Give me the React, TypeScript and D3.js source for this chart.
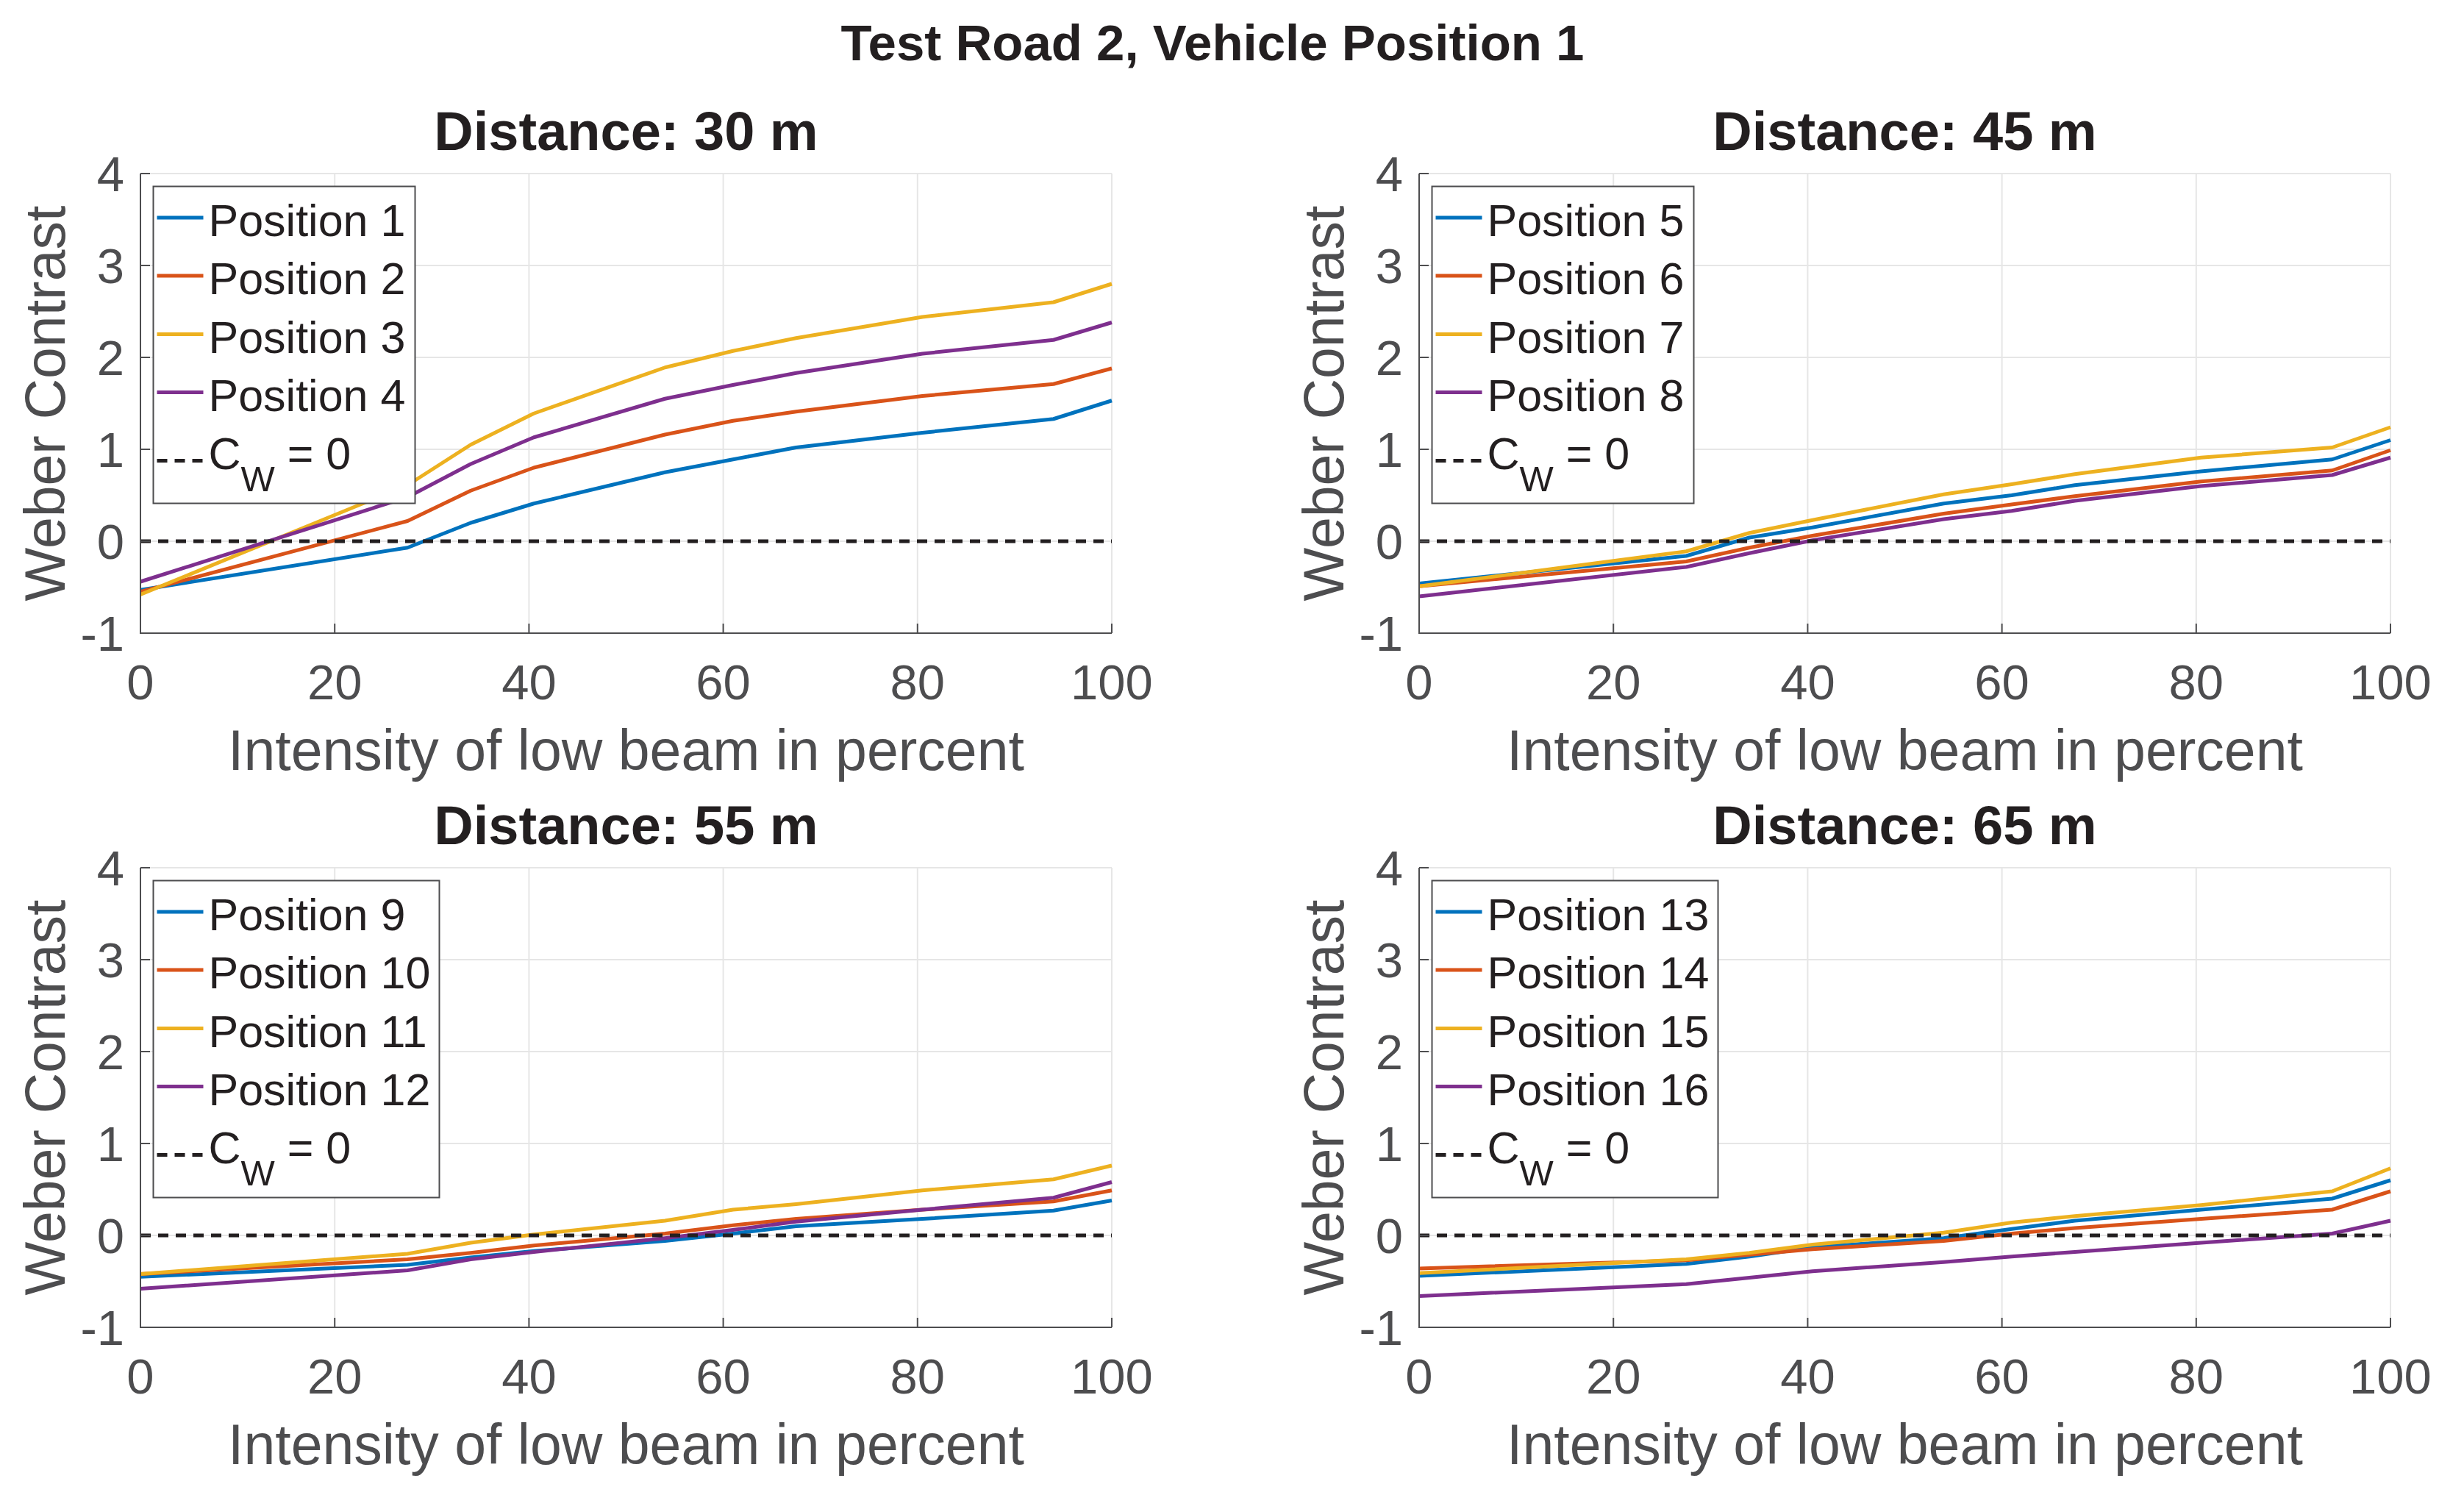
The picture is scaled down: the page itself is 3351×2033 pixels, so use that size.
import * as d3 from 'd3'

// x positions (intensity of low beam, %)
const intensity = [0, 27.5, 34, 40.5, 54, 61, 67.5, 80.5, 94, 100]

// Distance 30 m
const pos1 = [-0.53, -0.07, 0.2, 0.41, 0.75, 0.89, 1.02, 1.18, 1.33, 1.53]
const pos2 = [-0.55, 0.22, 0.55, 0.8, 1.16, 1.31, 1.41, 1.58, 1.71, 1.88]
const pos3 = [-0.58, 0.61, 1.05, 1.39, 1.89, 2.07, 2.21, 2.44, 2.6, 2.8]
const pos4 = [-0.44, 0.48, 0.84, 1.13, 1.55, 1.7, 1.83, 2.04, 2.19, 2.38]

// Distance 45 m
const pos5 = [-0.46, -0.16, 0.04, 0.15, 0.41, 0.5, 0.61, 0.76, 0.89, 1.1]
const pos6 = [-0.49, -0.22, -0.07, 0.06, 0.3, 0.4, 0.49, 0.65, 0.77, 0.99]
const pos7 = [-0.49, -0.11, 0.09, 0.23, 0.51, 0.62, 0.73, 0.91, 1.02, 1.24]
const pos8 = [-0.6, -0.28, -0.13, 0.01, 0.24, 0.33, 0.44, 0.6, 0.72, 0.91]

// Distance 55 m
const pos9 = [-0.45, -0.32, -0.24, -0.17, -0.06, 0.02, 0.1, 0.18, 0.27, 0.38]
const pos10 = [-0.42, -0.26, -0.19, -0.11, 0.02, 0.11, 0.18, 0.28, 0.37, 0.49]
const pos11 = [-0.42, -0.2, -0.08, 0.01, 0.16, 0.28, 0.34, 0.49, 0.61, 0.76]
const pos12 = [-0.58, -0.38, -0.26, -0.18, -0.03, 0.06, 0.15, 0.28, 0.41, 0.58]

// Distance 65 m
const pos13 = [-0.44, -0.31, -0.23, -0.13, -0.03, 0.07, 0.16, 0.28, 0.4, 0.6]
const pos14 = [-0.36, -0.27, -0.21, -0.15, -0.06, 0.02, 0.08, 0.18, 0.28, 0.48]
const pos15 = [-0.41, -0.26, -0.19, -0.1, 0.03, 0.14, 0.21, 0.33, 0.48, 0.73]
const pos16 = [-0.66, -0.53, -0.46, -0.39, -0.29, -0.23, -0.18, -0.08, 0.02, 0.16]

const panelTitles = ['Distance: 30 m', 'Distance: 45 m', 'Distance: 55 m', 'Distance: 65 m']
const panelSeries = [
    [pos1, pos2, pos3, pos4],
    [pos5, pos6, pos7, pos8],
    [pos9, pos10, pos11, pos12],
    [pos13, pos14, pos15, pos16],
]
const panelLabels = [
    ['Position 1', 'Position 2', 'Position 3', 'Position 4'],
    ['Position 5', 'Position 6', 'Position 7', 'Position 8'],
    ['Position 9', 'Position 10', 'Position 11', 'Position 12'],
    ['Position 13', 'Position 14', 'Position 15', 'Position 16'],
]
const xTicks = [0, 20, 40, 60, 80, 100]
const yTicks = [-1, 0, 1, 2, 3, 4]

const colors = ['#0072BD', '#D95319', '#EDB120', '#7E2F8E']

const W = 1321
const H = 625
const lefts = [191, 1930]
const tops = [236, 1180]

const font = '"Liberation Sans", Arial, Helvetica, sans-serif'
const axisGray = '#4d4d4f'
const textDark = '#231f20'

type PanelProps = {
    left: number
    top: number
    title: string
    series: number[][]
    labels: string[]
}

const Panel = ({ left, top, title, series, labels }: PanelProps) => {
    const x = d3.scaleLinear().domain([0, 100]).range([left, left + W])
    const y = d3.scaleLinear().domain([-1, 4]).range([top + H, top])
    const line = d3.line<number>()
        .x((_, i) => x(intensity[i]))
        .y(d => y(d))

    const legendX = left + 17.5
    const legendY = top + 17.5
    const legendW = labels.some(l => l.length > 10) ? 389 : 356
    const rowY = [42.5, 121.5, 201, 280]
    const dashRow = 373

    return (
        <g>
            {/* grid */}
            {xTicks.map(t => (
                <line key={'gx' + t} x1={x(t)} x2={x(t)} y1={y(-1)} y2={y(4)} stroke="#e6e6e6" strokeWidth={2} />
            ))}
            {yTicks.map(t => (
                <line key={'gy' + t} x1={x(0)} x2={x(100)} y1={y(t)} y2={y(t)} stroke="#e6e6e6" strokeWidth={2} />
            ))}

            {/* data */}
            {series.map((s, i) => (
                <path key={i} d={line(s) || ''} fill="none" stroke={colors[i]} strokeWidth={5} strokeLinejoin="round" />
            ))}
            <line x1={x(0)} x2={x(100)} y1={y(0)} y2={y(0)} stroke={textDark} strokeWidth={5} strokeDasharray="14 10" />

            {/* axes */}
            <line x1={x(0)} x2={x(0)} y1={y(-1) + 1} y2={y(4)} stroke={axisGray} strokeWidth={2} />
            <line x1={x(0)} x2={x(100)} y1={y(-1)} y2={y(-1)} stroke={axisGray} strokeWidth={2} />
            {xTicks.map(t => (
                <g key={'xt' + t}>
                    <line x1={x(t)} x2={x(t)} y1={y(-1)} y2={y(-1) - 13} stroke={axisGray} strokeWidth={2} />
                    <text x={x(t)} y={y(-1) + 90} textAnchor="middle" fontSize={67} fill={axisGray} fontFamily={font}>{t}</text>
                </g>
            ))}
            {yTicks.map(t => (
                <g key={'yt' + t}>
                    <line x1={x(0)} x2={x(0) + 13} y1={y(t)} y2={y(t)} stroke={axisGray} strokeWidth={2} />
                    <text x={x(0) - 22} y={y(t) + 24} textAnchor="end" fontSize={67} fill={axisGray} fontFamily={font}>{t}</text>
                </g>
            ))}

            {/* labels */}
            <text x={left + W / 2} y={top + H + 186} textAnchor="middle" fontSize={77} fill={axisGray} fontFamily={font}>
                Intensity of low beam in percent
            </text>
            <text transform={`translate(${left - 103},${top + H / 2}) rotate(-90)`} textAnchor="middle" fontSize={77} fill={axisGray} fontFamily={font}>
                Weber Contrast
            </text>
            <text x={left + W / 2} y={top - 32} textAnchor="middle" fontSize={74} fontWeight="bold" fill={textDark} fontFamily={font}>
                {title}
            </text>

            {/* legend */}
            <rect x={legendX} y={legendY} width={legendW} height={431} fill="#fff" stroke={axisGray} strokeWidth={2} />
            {labels.map((l, i) => (
                <g key={l}>
                    <line x1={legendX + 5} x2={legendX + 68} y1={legendY + rowY[i]} y2={legendY + rowY[i]} stroke={colors[i]} strokeWidth={5} />
                    <text x={legendX + 75} y={legendY + rowY[i] + 25} fontSize={61} fill={textDark} fontFamily={font}>{l}</text>
                </g>
            ))}
            <line x1={legendX + 5} x2={legendX + 68} y1={legendY + dashRow} y2={legendY + dashRow} stroke={textDark} strokeWidth={5} strokeDasharray="14 10" />
            <text x={legendX + 75} y={legendY + dashRow + 11} fontSize={61} fill={textDark} fontFamily={font}>
                C<tspan fontSize={49} dy={30}>W</tspan><tspan dy={-30}> = 0</tspan>
            </text>
        </g>
    )
}

export default function App() {
    return (
        <svg
            width={3351}
            height={2033}
            style={{ position: 'absolute', left: 0, top: 0, display: 'block', background: '#fff' }}
        >
            <rect width={3351} height={2033} fill="#fff" />
            <text x={1649} y={82} textAnchor="middle" fontSize={69} fontWeight="bold" fill={textDark} fontFamily={font}>
                Test Road 2, Vehicle Position 1
            </text>
            {panelTitles.map((t, i) => (
                <Panel
                    key={t}
                    left={lefts[i % 2]}
                    top={tops[Math.floor(i / 2)]}
                    title={t}
                    series={panelSeries[i]}
                    labels={panelLabels[i]}
                />
            ))}
        </svg>
    )
}
